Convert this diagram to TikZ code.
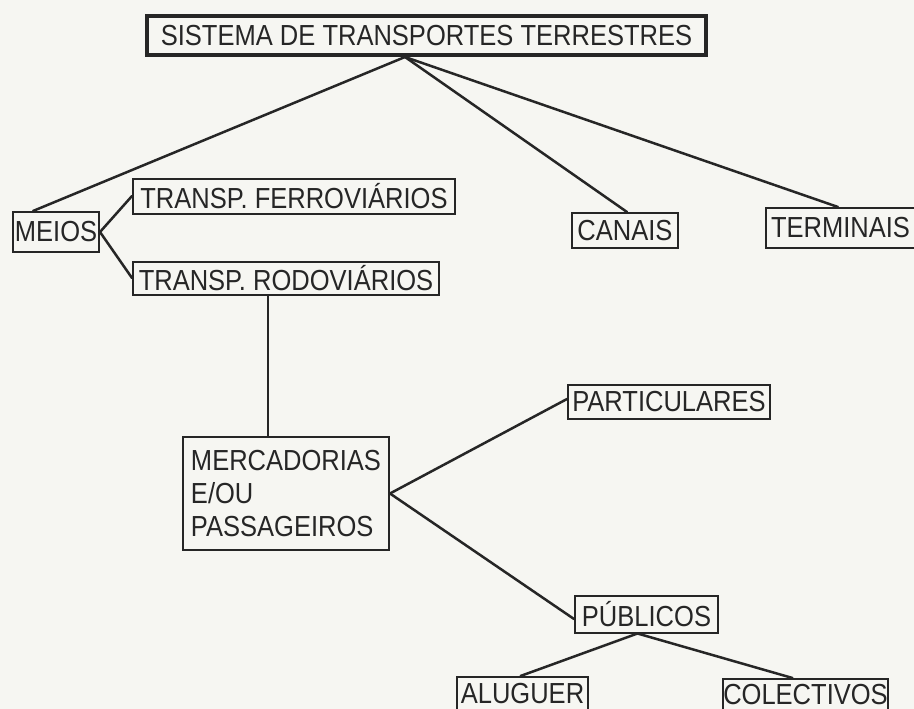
\documentclass[tikz,border=0pt]{standalone}
\usepackage{fontspec}
\setmainfont{Liberation Sans}[FakeStretch=0.88]
\definecolor{ink}{RGB}{38,38,38}
\definecolor{paper}{RGB}{246,246,242}
\begin{document}
\begin{tikzpicture}[x=1pt,y=-1pt,
  box/.style={draw=ink, line width=2pt, inner sep=0pt, text=ink,
              font=\fontsize{29}{33}\selectfont},
  topbox/.style={box, line width=4pt},
  link/.style={draw=ink, line width=2.5pt, line cap=round}]
\useasboundingbox (0,0) rectangle (914,709);
\fill[paper] (0,0) rectangle (914,709);
\clip (0,0) rectangle (914,709);

% nodes
\node[topbox, minimum width=559pt, minimum height=39pt] (top) at (426.5,35.5) {SISTEMA DE TRANSPORTES TERRESTRES};
\node[box, minimum width=86pt, minimum height=40pt] (meios) at (56,232) {MEIOS};
\node[box, minimum width=322pt, minimum height=35pt] (ferro) at (294,196) {TRANSP. FERROVIÁRIOS};
\node[box, minimum width=306pt, minimum height=33pt] (rodo) at (286,278) {TRANSP. RODOVIÁRIOS};
\node[box, minimum width=106pt, minimum height=35pt] (canais) at (625,230.5) {CANAIS};
\node[box, anchor=west, text width=150pt, inner xsep=5pt, align=left, minimum height=40pt] (term) at (765,228) {TERMINAIS};
\node[box, minimum width=202pt, minimum height=34pt] (partic) at (669,402) {PARTICULARES};
\node[box, align=left, minimum width=206pt, minimum height=113pt] (merc) at (286,493.5)
  {MERCADORIAS\\E/OU\\PASSAGEIROS};
\node[box, minimum width=143pt, minimum height=37pt] (pub) at (646.5,614) {PÚBLICOS};
\node[box, minimum width=131pt, minimum height=32.5pt] (alug) at (522.5,693.25) {ALUGUER};
\node[box, minimum width=165pt, minimum height=30.5pt] (colec) at (805.5,694.25) {COLECTIVOS};

% junction points
\coordinate (tj) at ([xshift=-21.5pt]top.south);
\coordinate (rj) at ([xshift=-18pt]rodo.south);
\coordinate (pj) at ([xshift=-9pt]pub.south);

% connectors
\draw[link] (tj) -- ([xshift=-23pt]meios.north);
\draw[link] (tj) -- ([xshift=2pt]canais.north);
\draw[link] (tj) -- ([xshift=-8pt]term.north);
\draw[link] (meios.east) -- (ferro.west);
\draw[link] (meios.east) -- (rodo.west);
\draw[link] (rj) -- (rj |- merc.north);
\draw[link] (merc.east) -- ([yshift=3pt]partic.west);
\draw[link] (merc.east) -- ([yshift=-5pt]pub.west);
\draw[link] (pj) -- ([xshift=-2pt]alug.north);
\draw[link] (pj) -- ([xshift=-13pt]colec.north);
\end{tikzpicture}
\end{document}
